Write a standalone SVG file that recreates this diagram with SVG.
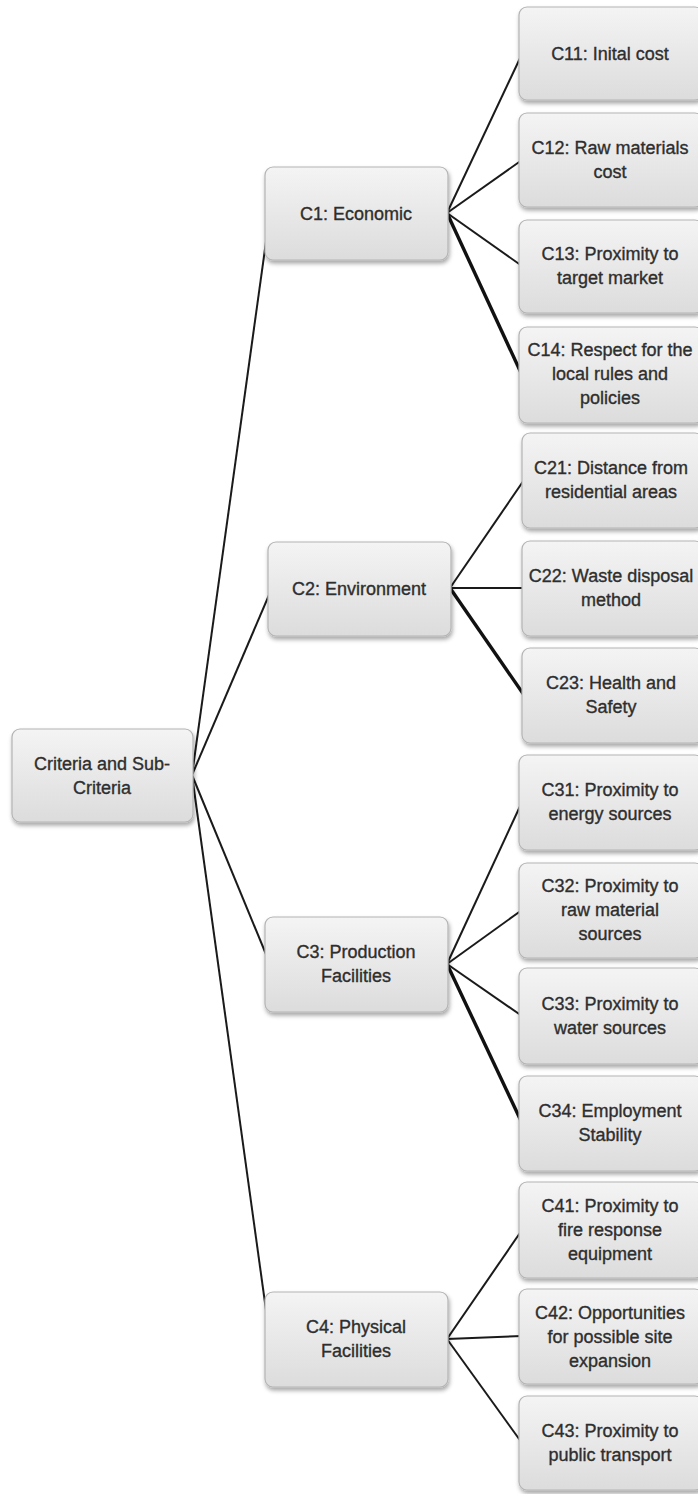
<svg xmlns="http://www.w3.org/2000/svg" width="698" height="1494" viewBox="0 0 698 1494">
<defs>
<linearGradient id="g" x1="0" y1="0" x2="0" y2="1">
<stop offset="0" stop-color="#f4f4f4"/>
<stop offset="1" stop-color="#dcdcdc"/>
</linearGradient>
<filter id="sh" x="-10%" y="-10%" width="125%" height="130%">
<feDropShadow dx="1" dy="3" stdDeviation="2.2" flood-color="#000" flood-opacity="0.35"/>
</filter>
</defs>
<style>
.box{fill:url(#g);stroke:#b4b4b4;stroke-width:1.2;filter:url(#sh)}
.t{font-family:"Liberation Sans","Noto Sans",sans-serif;font-size:18px;fill:#2e2e2e;stroke:#2e2e2e;stroke-width:0.35;text-anchor:middle}
.c{stroke:#1a1a1a;stroke-width:2;fill:none}
.k{stroke:#111;stroke-width:3.4;fill:none}
</style>
<g id="connectors">
<line class="c" x1="192" y1="775" x2="270" y2="213"/>
<line class="c" x1="192" y1="775" x2="272" y2="588"/>
<line class="c" x1="192" y1="775" x2="270" y2="964"/>
<line class="c" x1="192" y1="775" x2="270" y2="1339"/>
<line class="c" x1="447" y1="213" x2="522" y2="54"/>
<line class="c" x1="447" y1="213" x2="522" y2="160"/>
<line class="c" x1="447" y1="213" x2="522" y2="266"/>
<line class="k" x1="447" y1="213" x2="522" y2="375"/>
<line class="c" x1="450" y1="588" x2="524" y2="480"/>
<line class="c" x1="450" y1="588" x2="524" y2="588"/>
<line class="k" x1="450" y1="588" x2="524" y2="695"/>
<line class="c" x1="447" y1="964" x2="522" y2="802"/>
<line class="c" x1="447" y1="964" x2="522" y2="910"/>
<line class="c" x1="447" y1="964" x2="522" y2="1016"/>
<line class="k" x1="447" y1="964" x2="522" y2="1123"/>
<line class="c" x1="447" y1="1339" x2="522" y2="1230"/>
<line class="c" x1="447" y1="1339" x2="522" y2="1336"/>
<line class="c" x1="447" y1="1339" x2="522" y2="1443"/>
</g>
<g id="root">
<rect class="box" x="12" y="729" width="181" height="93" rx="8"/>
<text class="t" x="102" y="770">Criteria and Sub-</text>
<text class="t" x="102" y="794">Criteria</text>
</g>
<g id="c1">
<rect class="box" x="265" y="167" width="183" height="93" rx="8"/>
<text class="t" x="356" y="220">C1: Economic</text>
</g>
<g id="c2">
<rect class="box" x="268" y="542" width="183" height="94" rx="8"/>
<text class="t" x="359" y="595">C2: Environment</text>
</g>
<g id="c3">
<rect class="box" x="265" y="917" width="183" height="95" rx="8"/>
<text class="t" x="356" y="958">C3: Production</text>
<text class="t" x="356" y="982">Facilities</text>
</g>
<g id="c4">
<rect class="box" x="265" y="1292" width="183" height="95" rx="8"/>
<text class="t" x="356" y="1333">C4: Physical</text>
<text class="t" x="356" y="1357">Facilities</text>
</g>
<g id="c11">
<rect class="box" x="519" y="7" width="184" height="93" rx="8"/>
<text class="t" x="610" y="60">C11: Inital cost</text>
</g>
<g id="c12">
<rect class="box" x="519" y="113" width="184" height="94" rx="8"/>
<text class="t" x="610" y="154">C12: Raw materials</text>
<text class="t" x="610" y="178">cost</text>
</g>
<g id="c13">
<rect class="box" x="519" y="220" width="184" height="93" rx="8"/>
<text class="t" x="610" y="260">C13: Proximity to</text>
<text class="t" x="610" y="284">target market</text>
</g>
<g id="c14">
<rect class="box" x="519" y="327" width="184" height="96" rx="8"/>
<text class="t" x="610" y="356">C14: Respect for the</text>
<text class="t" x="610" y="380">local rules and</text>
<text class="t" x="610" y="404">policies</text>
</g>
<g id="c21">
<rect class="box" x="522" y="433" width="181" height="95" rx="8"/>
<text class="t" x="611" y="474">C21: Distance from</text>
<text class="t" x="611" y="498">residential areas</text>
</g>
<g id="c22">
<rect class="box" x="522" y="541" width="181" height="95" rx="8"/>
<text class="t" x="611" y="582">C22: Waste disposal</text>
<text class="t" x="611" y="606">method</text>
</g>
<g id="c23">
<rect class="box" x="522" y="648" width="181" height="95" rx="8"/>
<text class="t" x="611" y="689">C23: Health and</text>
<text class="t" x="611" y="713">Safety</text>
</g>
<g id="c31">
<rect class="box" x="519" y="755" width="184" height="95" rx="8"/>
<text class="t" x="610" y="796">C31: Proximity to</text>
<text class="t" x="610" y="820">energy sources</text>
</g>
<g id="c32">
<rect class="box" x="519" y="863" width="184" height="95" rx="8"/>
<text class="t" x="610" y="892">C32: Proximity to</text>
<text class="t" x="610" y="916">raw material</text>
<text class="t" x="610" y="940">sources</text>
</g>
<g id="c33">
<rect class="box" x="519" y="968" width="184" height="96" rx="8"/>
<text class="t" x="610" y="1010">C33: Proximity to</text>
<text class="t" x="610" y="1034">water sources</text>
</g>
<g id="c34">
<rect class="box" x="519" y="1076" width="184" height="95" rx="8"/>
<text class="t" x="610" y="1117">C34: Employment</text>
<text class="t" x="610" y="1141">Stability</text>
</g>
<g id="c41">
<rect class="box" x="519" y="1182" width="184" height="96" rx="8"/>
<text class="t" x="610" y="1212">C41: Proximity to</text>
<text class="t" x="610" y="1236">fire response</text>
<text class="t" x="610" y="1260">equipment</text>
</g>
<g id="c42">
<rect class="box" x="519" y="1289" width="184" height="95" rx="8"/>
<text class="t" x="610" y="1319">C42: Opportunities</text>
<text class="t" x="610" y="1343">for possible site</text>
<text class="t" x="610" y="1367">expansion</text>
</g>
<g id="c43">
<rect class="box" x="519" y="1396" width="184" height="94" rx="8"/>
<text class="t" x="610" y="1437">C43: Proximity to</text>
<text class="t" x="610" y="1461">public transport</text>
</g>
</svg>
